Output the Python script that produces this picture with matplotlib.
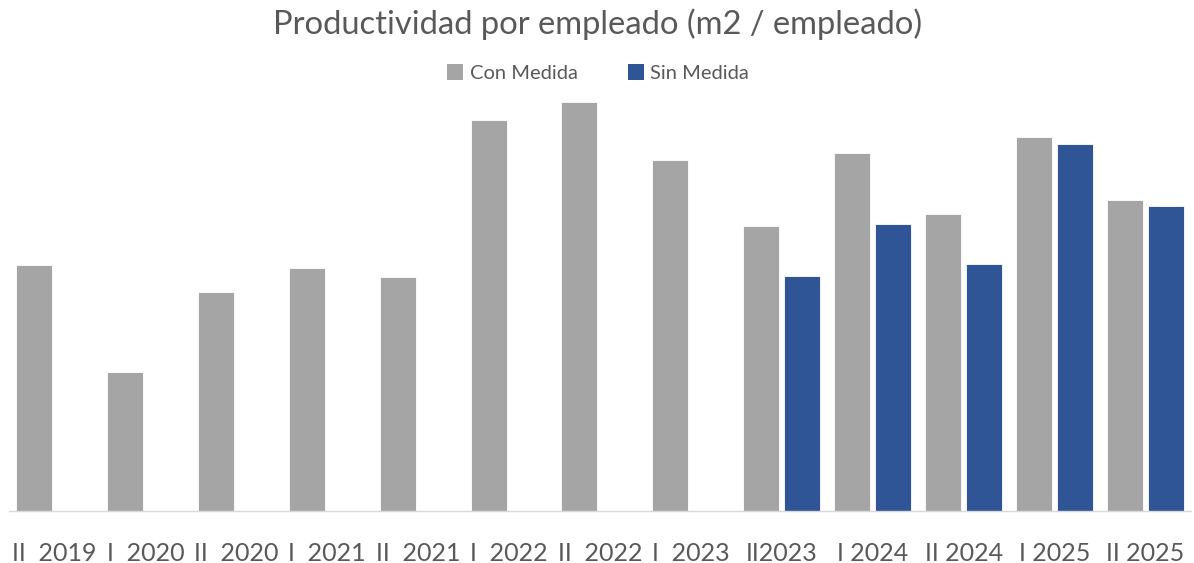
import matplotlib
matplotlib.use("Agg")
import matplotlib.pyplot as plt
import numpy as np
from matplotlib.patches import Patch

categories = ["II  2019", "I  2020", "II  2020", "I  2021", "II  2021", "I  2022",
              "II  2022", "I  2023", "II2023", "I 2024", "II 2024", "I 2025", "II 2025"]
con_medida = [245, 139, 218, 242, 233, 390, 408, 350, 284, 357, 296, 373, 310]
sin_medida = [np.nan] * 8 + [234, 286, 246, 366, 304]

GRAY = "#A5A5A5"
BLUE = "#2F5597"
TXT = "#595959"
FONT = "Lato"

W, H = 1194, 563
fig = plt.figure(figsize=(W / 100, H / 100), dpi=100)
ax = fig.add_axes([9 / W, (H - 511) / H, (1191 - 9) / W, (511 - 95) / H])

x = np.arange(len(categories))
bw = 0.396
gap = 0.055
ax.bar(x - (bw + gap) / 2, con_medida, bw, color=GRAY, edgecolor="white", linewidth=0.6)
ax.bar(x + (bw + gap) / 2, sin_medida, bw, color=BLUE, edgecolor="white", linewidth=0.6)

ax.set_xlim(-0.5, len(categories) - 0.5)
ax.set_ylim(0, 415)
ax.set_yticks([])
for s in ["top", "right", "left"]:
    ax.spines[s].set_visible(False)
ax.spines["bottom"].set_color("#D9D9D9")
ax.spines["bottom"].set_linewidth(1.0)
ax.set_xticks(x)
ax.set_xticklabels(categories, fontsize=18, color=TXT, family=FONT)
ax.tick_params(axis="x", length=0, pad=22)

fig.text(598 / W, 1 - 24 / H, "Productividad por empleado (m2 / empleado)",
         ha="center", va="center", fontsize=23.6, color=TXT, family=FONT)

handles = [Patch(facecolor=GRAY, label="Con Medida"), Patch(facecolor=BLUE, label="Sin Medida")]
fig.legend(handles=handles, loc="center", bbox_to_anchor=(598 / W, 1 - 73 / H), ncol=2,
           frameon=False, prop={"family": FONT, "size": 14.5}, labelcolor=TXT,
           handlelength=0.8, handleheight=0.8, handletextpad=0.3, columnspacing=2.5)

fig.savefig("out.png", dpi=100)
